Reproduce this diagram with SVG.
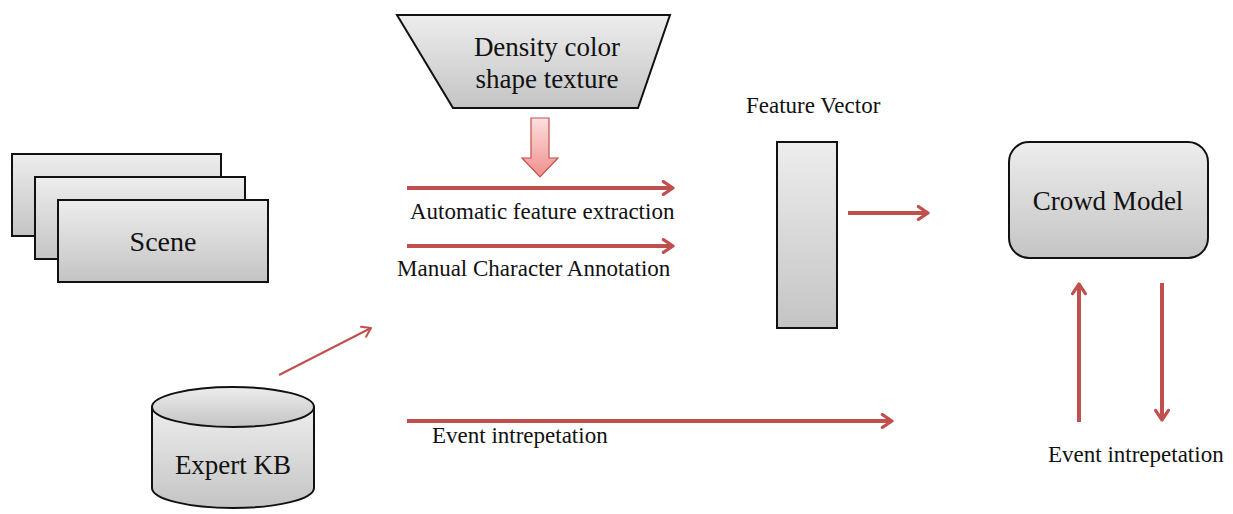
<svg xmlns="http://www.w3.org/2000/svg" width="1233" height="514" viewBox="0 0 1233 514">
<defs>
<linearGradient id="g" x1="0" y1="0" x2="0" y2="1"><stop offset="0" stop-color="#ededed"/><stop offset="1" stop-color="#c4c4c4"/></linearGradient>
<linearGradient id="pk" x1="0" y1="0" x2="0" y2="1"><stop offset="0" stop-color="#fbe0df"/><stop offset="1" stop-color="#f08f8c"/></linearGradient>
<marker id="ah" viewBox="0 0 10 10" refX="8" refY="5" markerWidth="4" markerHeight="4" orient="auto" markerUnits="strokeWidth">
<polyline points="2,1 8,5 2,9" fill="none" stroke="#c0504d" stroke-width="2" stroke-linecap="round" stroke-linejoin="round"/>
</marker>
<marker id="ah2" viewBox="0 0 10 10" refX="8" refY="5" markerWidth="7" markerHeight="7" orient="auto" markerUnits="strokeWidth">
<polyline points="2,1 8,5 2,9" fill="none" stroke="#c0504d" stroke-width="1.4" stroke-linecap="round" stroke-linejoin="round"/>
</marker>
</defs>
<style>
.shape{fill:url(#g);stroke:#111;stroke-width:2}
.t{font-family:"Liberation Serif","Times New Roman",serif;fill:#111}
.c{stroke:#c0504d;stroke-width:4;fill:none;marker-end:url(#ah)}
</style>
<rect width="1233" height="514" fill="#fff"/>
<g id="trapezoid">
<polygon class="shape" points="397,15 670,15 638,108 453,108"/>
<text class="t" x="547" y="56" font-size="27" text-anchor="middle">Density color</text>
<text class="t" x="547" y="88" font-size="27" text-anchor="middle">shape texture</text>
</g>
<g id="blockarrow">
<polygon points="531,118 549,118 549,158 558,158 540,177 522,158 531,158" fill="url(#pk)" stroke="#c0504d" stroke-width="1.2"/>
</g>
<g id="scene">
<rect class="shape" x="12" y="154" width="209" height="82"/>
<rect class="shape" x="35" y="177" width="210" height="82"/>
<rect class="shape" x="58" y="200" width="210" height="82"/>
<text class="t" x="163" y="251" font-size="28" text-anchor="middle">Scene</text>
</g>
<g id="expertkb">
<path class="shape" d="M152,407 L152,488 A81,20 0 0 0 314,488 L314,407"/>
<ellipse class="shape" cx="233" cy="407" rx="81" ry="20"/>
<text class="t" x="233" y="474" font-size="27" text-anchor="middle">Expert KB</text>
</g>
<g id="featurevector">
<text class="t" x="746" y="113" font-size="23">Feature Vector</text>
<rect class="shape" x="777" y="142" width="60" height="186"/>
</g>
<g id="crowdmodel">
<rect class="shape" x="1009" y="142" width="199" height="116" rx="20"/>
<text class="t" x="1108" y="210" font-size="27" text-anchor="middle">Crowd Model</text>
</g>
<g id="connectors">
<line class="c" x1="407" y1="188" x2="673" y2="188"/>
<line class="c" x1="407" y1="246" x2="673" y2="246"/>
<line class="c" x1="848" y1="213" x2="928" y2="213"/>
<line class="c" x1="407" y1="421" x2="892" y2="421"/>
<line class="c" x1="1079" y1="422" x2="1079" y2="284"/>
<line class="c" x1="1162" y1="283" x2="1162" y2="420"/>
<line x1="279" y1="375" x2="371" y2="328" stroke="#c0504d" stroke-width="2" marker-end="url(#ah2)"/>
</g>
<g id="labels">
<text class="t" x="410" y="219" font-size="23">Automatic feature extraction</text>
<text class="t" x="397" y="276" font-size="23">Manual Character Annotation</text>
<text class="t" x="432" y="443" font-size="23">Event intrepetation</text>
<text class="t" x="1048" y="462" font-size="23">Event intrepetation</text>
</g>
</svg>
